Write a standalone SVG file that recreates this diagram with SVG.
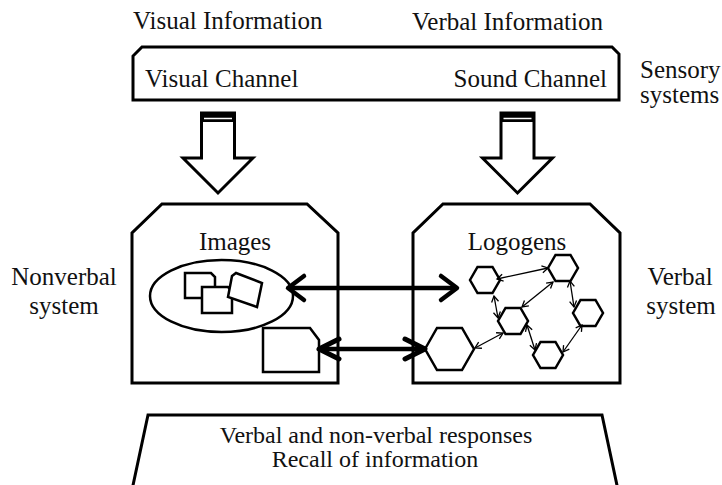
<svg xmlns="http://www.w3.org/2000/svg" width="722" height="485" viewBox="0 0 722 485">
<style>
  text { font-family: "Liberation Serif", "Times New Roman", serif; font-size: 25px; fill: #111; }
  .t24 { font-size: 24px; }
  .mid { text-anchor: middle; }
  .end { text-anchor: end; }
  .box { fill: #fff; stroke: #000; stroke-width: 3; stroke-linejoin: miter; }
  .shape { fill: #fff; stroke: #000; stroke-width: 2.5; }
  .hex { fill: #fff; stroke: #000; stroke-width: 2.5; }
  .thick { stroke: #000; stroke-width: 4.5; fill: none; }
  .thin { stroke: #000; stroke-width: 1.3; fill: none; }
</style>
<defs>
  <marker id="headThick" markerUnits="userSpaceOnUse" markerWidth="30" markerHeight="30" orient="auto-start-reverse" overflow="visible" refX="0" refY="0">
    <path d="M -16 -12 L 0 0 L -16 12" fill="none" stroke="#000" stroke-width="4.5" stroke-linecap="round" stroke-linejoin="round"/>
  </marker>
  <marker id="headThick2" markerUnits="userSpaceOnUse" markerWidth="30" markerHeight="30" orient="auto-start-reverse" overflow="visible" refX="0" refY="0">
    <path d="M -20 -10 L 0 0 L -20 10" fill="none" stroke="#000" stroke-width="5" stroke-linecap="round" stroke-linejoin="round"/>
  </marker>
  <marker id="headThin" markerUnits="userSpaceOnUse" markerWidth="12" markerHeight="12" orient="auto-start-reverse" overflow="visible" refX="0" refY="0">
    <path d="M -6 -3.5 L 0 0 L -6 3.5" fill="none" stroke="#000" stroke-width="1.3"/>
  </marker>
</defs>
<rect x="0" y="0" width="722" height="485" fill="#fff"/>

<g id="input-labels">
  <text x="133" y="29">Visual Information</text>
  <text x="412" y="30">Verbal Information</text>
</g>

<g id="node-sensory">
  <polygon class="box" points="142,47 612,47 619,54 619,100 133,100 133,56"/>
  <text x="145" y="87">Visual Channel</text>
  <text x="607" y="87" class="end">Sound Channel</text>
</g>
<g id="label-sensory">
  <text x="640" y="78">Sensory</text>
  <text x="640" y="103">systems</text>
</g>

<g id="arrow-visual">
  <polygon class="box" points="201.5,113 234.5,113 234.5,158 253,158 218,193 183,158 201.5,158"/>
  <rect x="201.5" y="113" width="33" height="9" fill="#000"/>
  <line x1="204" y1="118.5" x2="232" y2="118.5" stroke="#fff" stroke-width="1.5"/>
</g>
<g id="arrow-verbal">
  <polygon class="box" points="501,113 534,113 534,158 552.5,158 517.5,193 482.5,158 501,158"/>
  <rect x="501" y="113" width="33" height="9" fill="#000"/>
  <line x1="503.5" y1="118.5" x2="531.5" y2="118.5" stroke="#fff" stroke-width="1.5"/>
</g>

<g id="node-nonverbal">
  <polygon class="box" points="162,204 307,204 338,233 338,383 132,383 132,233"/>
  <text x="235" y="250" class="mid">Images</text>
  <ellipse class="shape" cx="221.5" cy="296" rx="71.5" ry="36"/>
  <polygon class="shape" points="185,273 211,273 215,277 215,298 185,298"/>
  <polygon class="shape" points="202,287 228,287 232,291 232,313 202,313"/>
  <polygon class="shape" points="232,276 236,273 262,283 257,307 228,297"/>
  <polygon class="shape" points="263,328 310,328 319,340 319,372 263,372"/>
</g>
<g id="label-nonverbal">
  <text x="64" y="285" class="mid">Nonverbal</text>
  <text x="64" y="314" class="mid">system</text>
</g>

<g id="node-verbal">
  <polygon class="box" points="443,204 590,204 620,233 620,383 413,383 413,233"/>
  <text x="517" y="250" class="mid">Logogens</text>
  <polygon class="hex" points="425,349 437,328 462,328 474,349 462,370 437,370"/>
  <polygon id="h1" class="hex" points="470,280 477.5,267 492.5,267 500,280 492.5,293 477.5,293"/>
  <polygon id="h2" class="hex" points="548,268 555.5,255 570.5,255 578,268 570.5,281 555.5,281"/>
  <polygon id="h3" class="hex" points="498,321 505.5,308 520.5,308 528,321 520.5,334 505.5,334"/>
  <polygon id="h4" class="hex" points="573,313 580.5,300 595.5,300 603,313 595.5,326 580.5,326"/>
  <polygon id="h5" class="hex" points="533,355 540.5,342 555.5,342 563,355 555.5,368 540.5,368"/>
</g>
<g id="label-verbal">
  <text x="680" y="285" class="mid">Verbal</text>
  <text x="681" y="314" class="mid">system</text>
</g>

<g id="node-responses">
  <polygon class="box" points="148,415 602,415 618,490 132,490"/>
  <text x="376" y="443" class="mid t24">Verbal and non-verbal responses</text>
  <text x="375" y="467" class="mid t24">Recall of information</text>
</g>

<g id="connectors">
  <line class="thick" x1="288" y1="288" x2="457" y2="288" marker-start="url(#headThick)" marker-end="url(#headThick)"/>
  <line class="thick" x1="319" y1="349" x2="425" y2="349" stroke-width="5" marker-start="url(#headThick2)" marker-end="url(#headThick2)"/>
  <line class="thin" x1="497" y1="279" x2="548" y2="268" marker-start="url(#headThin)" marker-end="url(#headThin)"/>
  <line class="thin" x1="494" y1="296" x2="498" y2="318" marker-start="url(#headThin)" marker-end="url(#headThin)"/>
  <line class="thin" x1="553" y1="282" x2="522" y2="307" marker-start="url(#headThin)" marker-end="url(#headThin)"/>
  <line class="thin" x1="570" y1="281" x2="574" y2="307" marker-start="url(#headThin)" marker-end="url(#headThin)"/>
  <line class="thin" x1="527" y1="325" x2="535" y2="350" marker-start="url(#headThin)" marker-end="url(#headThin)"/>
  <line class="thin" x1="582" y1="325" x2="563" y2="352" marker-start="url(#headThin)" marker-end="url(#headThin)"/>
  <line class="thin" x1="475" y1="348" x2="503" y2="333" marker-start="url(#headThin)" marker-end="url(#headThin)"/>
</g>
</svg>
